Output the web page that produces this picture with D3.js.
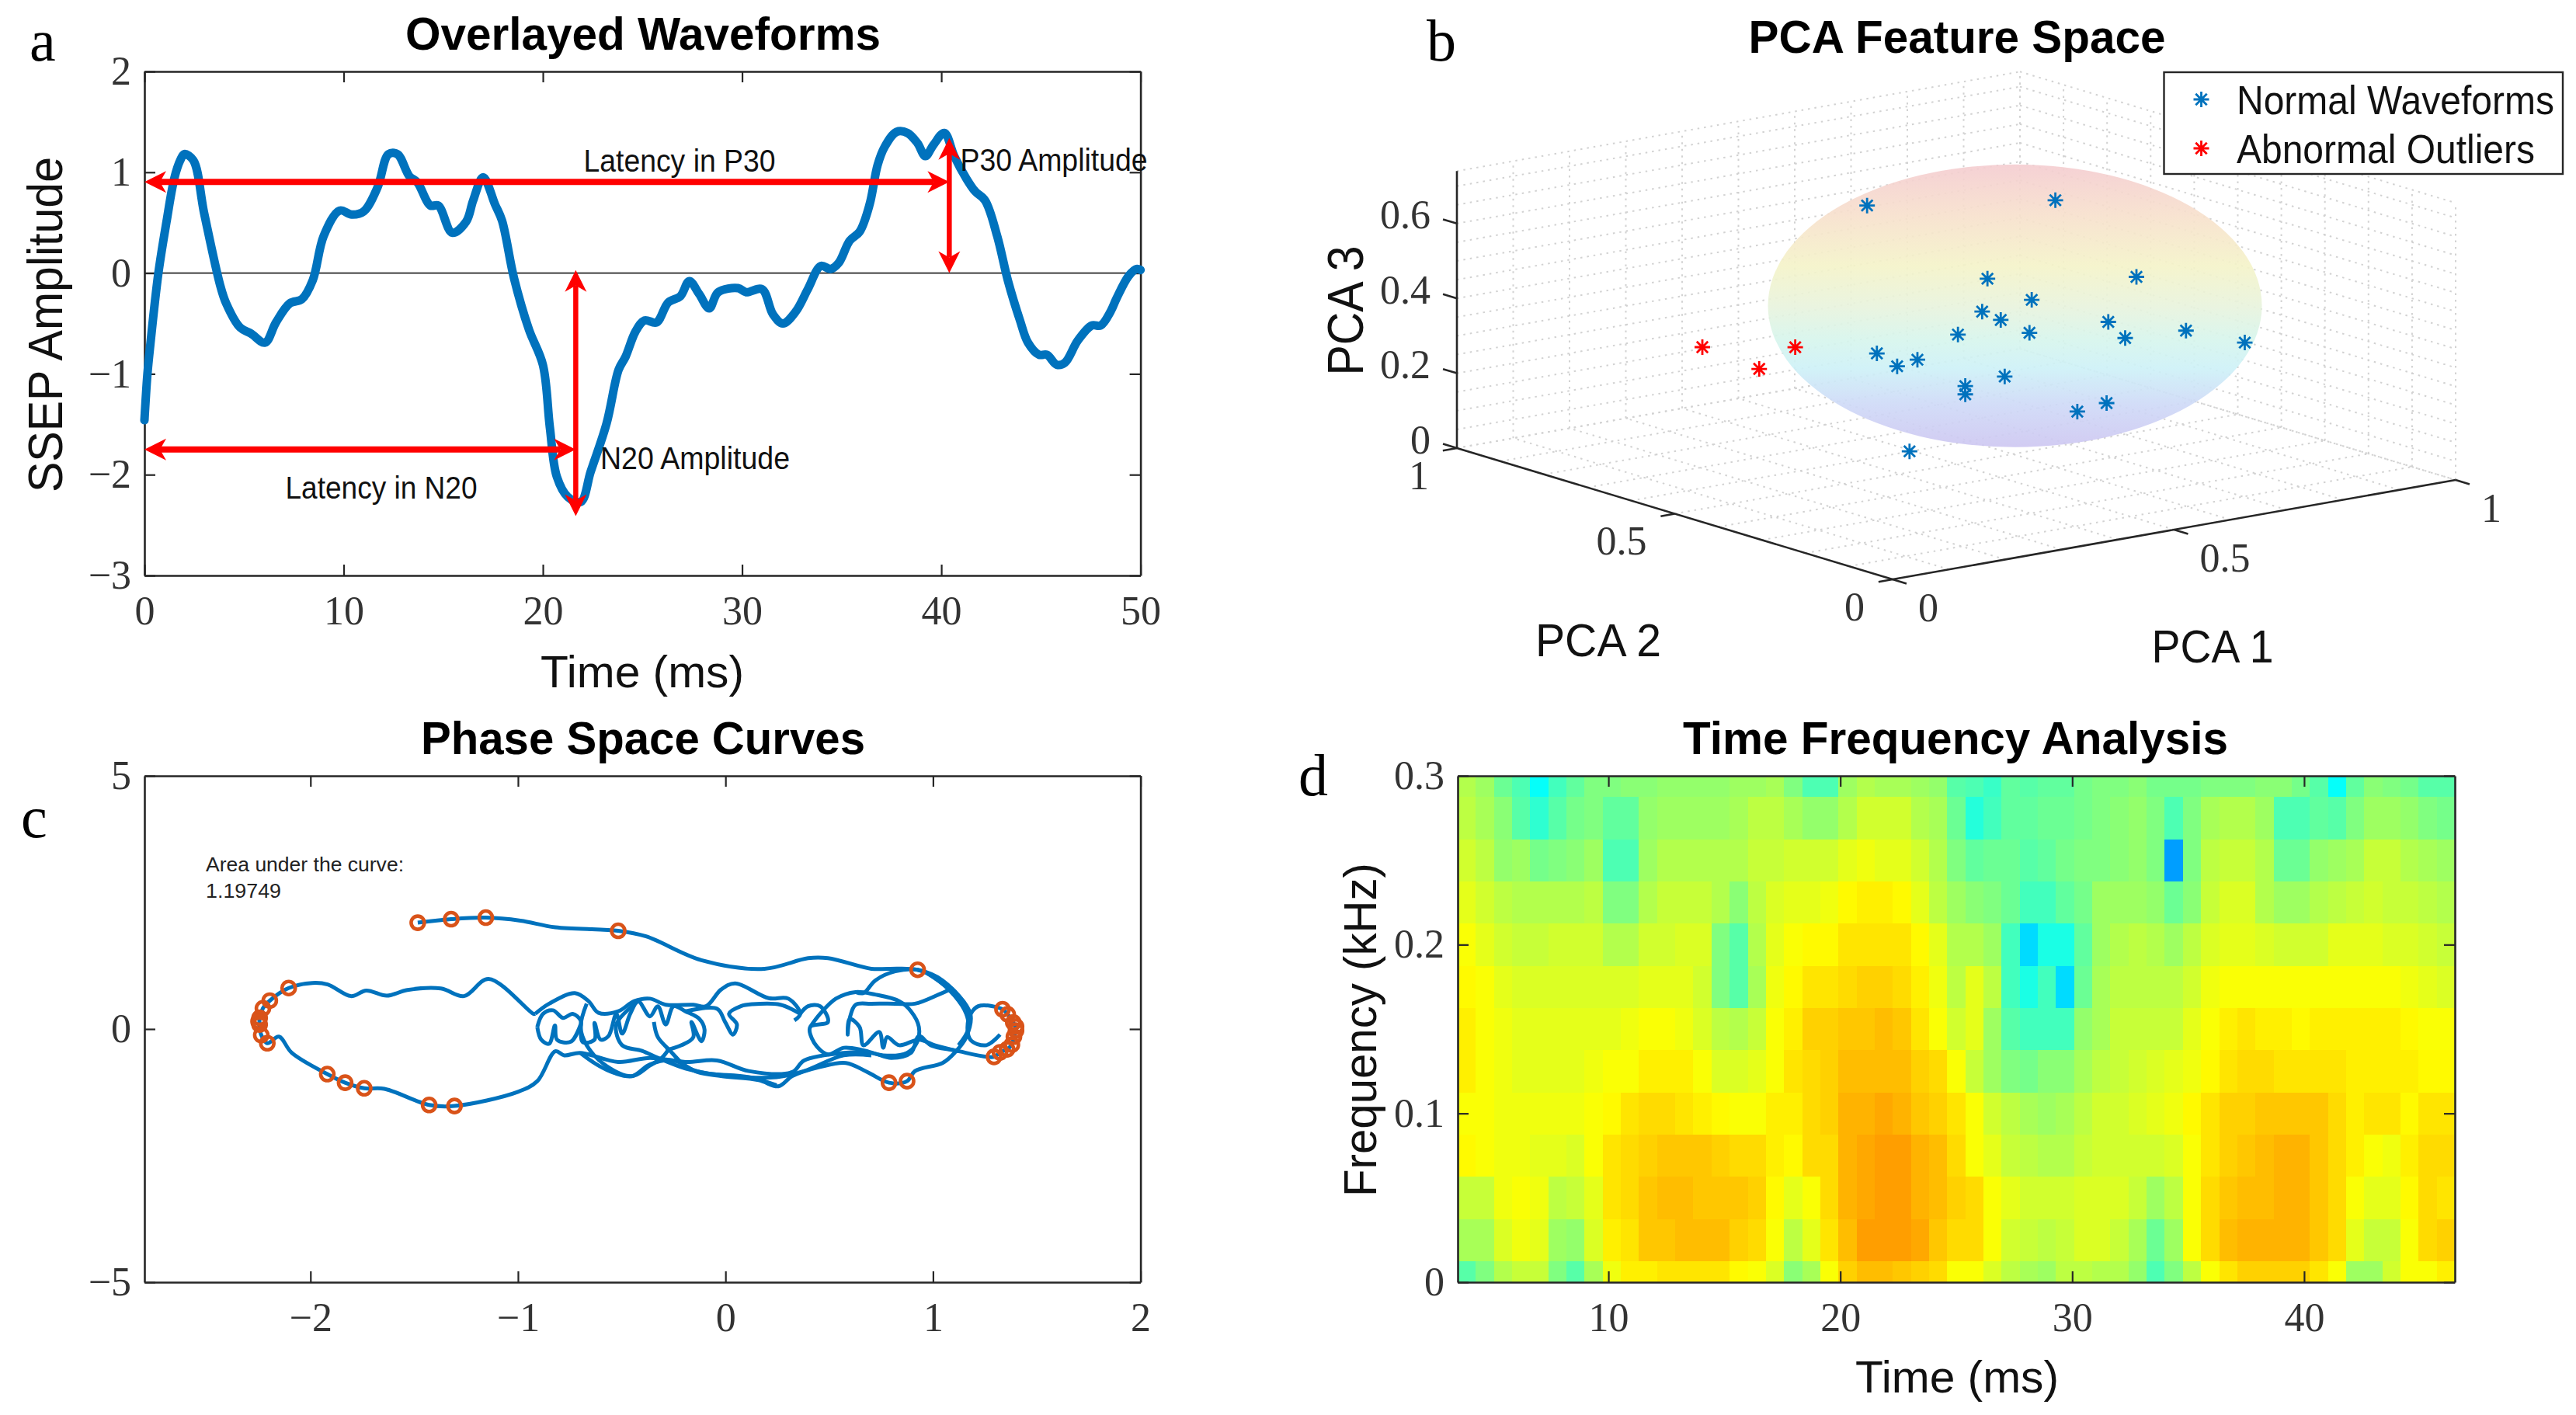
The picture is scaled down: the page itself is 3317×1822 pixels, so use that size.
<!DOCTYPE html>
<html><head><meta charset="utf-8">
<script src="https://cdnjs.cloudflare.com/ajax/libs/d3/7.8.5/d3.min.js"></script>
<style>html,body{margin:0;padding:0;background:#fff}svg{display:block}</style>
</head><body><div id="c"></div>
<script>
// ---------- Panel a: waveform (time ms, amplitude) ----------
const waveTime=[0,.15,.3,.7,1.1,1.5,1.8,2,2.45,3,3.8,4.1,4.8,5.35,6.05,6.6,7.3,7.9,8.45,9,9.8,10.4,11,11.7,12.25,12.7,13.3,13.7,14.35,14.75,15.45,16.15,16.5,17,17.6,17.95,18.55,19.3,20,20.35,20.7,21.25,21.9,22.4,23.2,23.8,24.15,24.65,25.1,25.7,26.3,26.9,27.35,27.85,28.35,28.8,29.8,30.2,31,31.55,32.05,32.7,33.3,33.95,34.45,34.85,35.4,35.9,36.4,36.8,37.15,37.75,38.3,38.8,39.2,39.6,40.15,40.65,41.25,41.7,42.2,42.8,43.35,43.95,44.35,44.9,45.3,45.8,46.2,46.85,47.55,48,48.5,48.8,49.4,49.8,50];
const waveAmp=[-1.46,-1.0,-.7,0,.5,.94,1.12,1.18,1.12,.59,-.12,-.3,-.54,-.6,-.69,-.49,-.3,-.26,-.07,.37,.62,.58,.61,.85,1.18,1.18,.96,.9,.67,.67,.4,.51,.72,.95,.68,.52,-.05,-.56,-.91,-1.53,-2.02,-2.22,-2.27,-1.97,-1.49,-.96,-.83,-.58,-.47,-.49,-.29,-.23,-.08,-.21,-.35,-.19,-.15,-.19,-.16,-.41,-.5,-.38,-.16,.07,.04,.1,.32,.41,.68,1.07,1.25,1.4,1.39,1.29,1.16,1.27,1.39,1.16,.94,.81,.72,.37,-.08,-.47,-.69,-.81,-.81,-.91,-.89,-.67,-.52,-.52,-.38,-.25,-.03,.04,.03];
const waveXTicks=[0,10,20,30,40,50];
const waveYTicks=[-3,-2,-1,0,1,2];
const latencyP30=40.4, latencyN20=21.65, latencyP30Level=.905, latencyN20Level=-1.75, p30Top=1.34, n20Bottom=-2.41;

// ---------- Panel b: PCA points ----------
const normalPCA1=[.419,.676,.478,.82,.634,.546,.579,.77,.908,.503,.63,.8,.935,.359,.431,.395,.586,.516,.516,.767,.715,.417];
const normalPCA2=[.6,.5,.4,.5,.5,.5,.5,.5,.5,.5,.5,.5,.4,.5,.5,.5,.5,.5,.5,.5,.5,.5];
const normalPCA3=[.677,.658,.536,.415,.403,.395,.364,.308,.248,.345,.316,.257,.244,.333,.297,.289,.211,.204,.182,.092,.083,.056];
const outlierPCA1=[.049,.15,.214];
const outlierPCA2=[.5,.5,.5];
const outlierPCA3=[.432,.347,.388];
const pcaPlaneTicks=[0,.5,1];
const pcaZTicks=[0,.2,.4,.6];
const pcaPlaneGrid=[0,.1,.2,.3,.4,.5,.6,.7,.8,.9,1];
const pcaZGrid=[0,.05,.1,.15,.2,.25,.3,.35,.4,.45,.5,.55,.6,.65,.7];
const pcaZMax=.74;
const ballCentre=[.55,.43,.434];
const ballStops=[[0,"#f4ccd0"],[.18,"#f7e0cc"],[.36,"#f4f3c8"],[.5,"#e8f3dc"],[.62,"#d6f5ec"],[.72,"#cdf1f7"],[.85,"#ced9f7"],[1,"#cdc6f1"]];

// ---------- Panel c: phase curves ----------
const phaseOuter=[[-1.483,2.10],[-1.322,2.17],[-1.155,2.20],[-.988,2.14],[-.82,2.01],[-.517,1.94],[-.383,1.83],[-.116,1.36],[.188,1.19],[.398,1.40],[.494,1.40],[.703,1.19],[.788,1.19],[.926,1.17],[1.046,.96],[1.18,.30],[1.16,-.16],[1.104,-.47],[1.046,-.67],[.913,-.83],[.875,-1.03],[.788,-1.06],[.684,-.85],[.58,-.67],[.455,-.75],[.322,-.93],[.255,-1.13],[.16,-1.01],[-.022,-.93],[-.135,-.85],[-.25,-.62],[-.364,-.70],[-.45,-.93],[-.535,-.87],[-.613,-.72],[-.70,-.47]];
const phaseLeftLoop=[[-.917,.30],[-.926,.30],[-1.142,.99],[-1.26,.65],[-1.372,.80],[-1.533,.77],[-1.632,.66],[-1.731,.76],[-1.805,.65],[-1.917,.88],[-1.991,.91],[-2.105,.81],[-2.196,.56],[-2.229,.41],[-2.245,.22],[-2.245,.09],[-2.237,-.12],[-2.208,-.28],[-2.152,-.15],[-2.09,-.47],[-1.919,-.89],[-1.833,-1.06],[-1.741,-1.17],[-1.644,-1.18],[-1.428,-1.50],[-1.306,-1.52],[-1.0,-1.24],[-.907,-1.03],[-.82,-.44],[-.777,-.52],[-.70,-.47],[-.517,-.65],[-.364,-.57],[-.193,-.65],[-.041,-.62],[.112,-.83],[.322,-.85],[.379,-.62],[.569,-.47],[.703,-.47],[.799,-.57],[.894,-.47],[.932,-.14],[.989,-.32],[1.104,-.42],[1.294,-.55],[1.323,-.46],[1.357,-.40],[1.38,-.31],[1.39,-.15],[1.40,-.03],[1.387,.13],[1.36,.29],[1.335,.39],[1.218,.45],[1.171,.19],[1.18,-.21],[1.256,-.32],[1.323,-.11]];
const phaseUpperWave=[[-.917,.30],[-.85,.50],[-.726,.71],[-.66,.55],[-.612,.32],[-.517,.35],[-.44,.55],[-.364,.60],[-.288,.48],[-.155,.48],[-.094,.45],[-.021,.78],[.046,.90],[.208,.61],[.303,.60],[.36,.30],[.332,.17]];
const phaseInnerA=[[-.907,.04],[-.879,.30],[-.831,.37],[-.783,.22],[-.736,.30],[-.698,.17],[-.698,-.03],[-.688,-.26],[-.631,-.21],[-.631,.12],[-.602,-.21],[-.564,-.14],[-.526,.30],[-.498,-.09],[-.459,.30],[-.421,.55],[-.364,.25],[-.326,.45],[-.288,.09],[-.25,.45],[-.193,.35],[-.126,.20],[-.101,-.01],[-.116,-.24],[-.164,.14],[-.155,-.16],[-.212,-.32],[-.288,-.42]];
const phaseInnerB=[[-.907,.04],[-.888,-.21],[-.85,-.29],[-.822,.07],[-.812,-.21],[-.745,-.25],[-.698,.09]];
const phaseInnerC=[[-.669,.50],[-.698,.04],[-.669,-.32],[-.574,-.73],[-.45,-.93],[-.364,-.72],[-.307,-.57],[-.269,-.37]];
const phaseInnerD=[[-.421,.55],[-.526,.09],[-.498,-.32],[-.402,-.43],[-.326,-.57],[-.193,-.78],[-.078,-.88],[.112,-.95],[.246,-1.11]];
const phaseInnerE=[[-.345,.14],[-.326,-.16],[-.269,-.42],[-.174,-.78],[.036,-.93],[.246,-.95],[.379,-.83],[.57,-.52],[.703,-.52]];
const phaseInnerF=[[-.193,.35],[-.04,.40],[-.002,.14],[.036,-.11],[.055,.09],[.017,.30],[.074,.45],[.131,.49],[.265,.48],[.36,.30]];
const phaseInnerG=[[.36,.30],[.398,.45],[.456,.45],[.494,.14],[.408,.04],[.427,-.27],[.494,-.50],[.57,-.37],[.665,-.42],[.76,-.52],[.875,-.47],[.922,-.27],[.932,.04],[.894,.35],[.837,.55],[.722,.68],[.627,.73],[.532,.60],[.456,.30],[.408,.04]];
const phaseInnerH=[[.627,.73],[.665,.71],[.722,.96],[.818,1.14],[.926,1.17],[1.008,1.01],[1.103,.66],[1.16,.30],[1.17,0],[1.123,-.32]];
const phaseInnerI=[[1.08,.78],[1.027,.68],[.913,.50],[.818,.50],[.703,.50],[.627,.48],[.598,.20],[.589,-.11],[.598,.20],[.646,.04],[.665,-.32],[.741,-.06],[.76,-.37],[.779,-.16],[.837,-.32],[.932,-.21],[1.008,-.32],[1.123,-.44]];
const phaseInnerJ=[[.97,1.11],[1.084,.76],[1.18,.25]];
const phaseCurves=[phaseOuter,phaseLeftLoop,phaseUpperWave,phaseInnerA,phaseInnerB,phaseInnerC,phaseInnerD,phaseInnerE,phaseInnerF,phaseInnerG,phaseInnerH,phaseInnerI,phaseInnerJ];
const phaseMarkers=[[-1.483,2.10],[-1.322,2.17],[-1.155,2.20],[-.517,1.94],[.926,1.17],[.875,-1.03],[.788,-1.06],[1.335,.39],[1.36,.29],[1.387,.13],[1.40,.05],[1.40,-.03],[1.39,-.15],[1.38,-.31],[1.357,-.40],[1.323,-.46],[1.294,-.55],[-2.105,.81],[-2.196,.56],[-2.229,.41],[-2.245,.22],[-2.25,.15],[-2.245,.09],[-2.237,-.12],[-2.208,-.28],[-1.919,-.89],[-1.833,-1.06],[-1.741,-1.17],[-1.428,-1.50],[-1.306,-1.52]];
const phaseXTicks=[-2,-1,0,1,2];
const phaseYTicks=[-5,0,5];

// ---------- Panel d: time-frequency levels (jet position, percent), rows by frequency ----------
const tf300=[55,53,48,45,38,44,47,50,50,51,51,52,52,52,52,53,53,54,50,45,45,53,55,54,54,53,52,46,45,43,47,46,47,47,49,50,50,51,49,49,49,50,50,50,51,51,49,46,38,47,51,50,49,46,46];
const tf275=[56,54,51,46,42,46,49,50,47,47,52,53,53,53,53,54,56,56,54,52,52,55,58,58,58,55,54,48,41,44,47,47,48,48,49,50,51,52,50,45,50,54,55,55,53,45,45,47,46,50,53,53,52,50,49];
const tf250=[58,56,52,53,49,50,51,53,45,45,53,55,55,55,55,55,57,57,58,58,58,60,61,60,60,58,55,50,47,48,48,46,47,49,50,50,51,52,50,28,50,56,57,57,55,48,48,52,53,54,57,57,55,54,53];
const tf225=[60,58,56,55,55,55,55,56,50,50,55,57,57,57,55,51,56,59,60,60,61,63,64,64,63,60,56,53,51,50,48,44,44,47,49,53,53,53,52,48,51,57,59,59,55,53,53,55,56,57,58,57,57,56,55];
const tf200=[62,60,58,57,57,58,58,58,55,55,58,58,59,59,50,46,55,60,62,63,63,65,65,65,65,63,60,55,55,53,44,34,40,40,47,53,55,56,55,53,56,59,60,60,59,58,58,58,60,60,60,59,59,58,57];
const tf175=[63,62,60,59,59,59,59,59,59,59,60,60,60,58,50,46,54,61,63,65,65,66,67,67,66,64,61,56,60,56,44,40,44,34,48,54,56,56,56,56,58,61,62,62,62,62,62,62,62,62,62,62,61,60,59];
const tf150=[64,62,61,60,60,60,60,60,60,61,62,62,61,59,56,55,57,62,64,67,67,68,68,69,68,65,62,58,60,53,46,44,44,44,52,54,57,57,57,57,60,62,64,65,64,64,63,64,64,64,64,64,63,62,62];
const tf125=[64,62,61,60,60,60,60,61,62,62,64,64,64,62,59,59,60,62,65,66,67,69,69,69,69,67,66,62,57,53,50,49,51,51,54,56,57,58,59,60,61,63,65,66,66,65,65,65,65,64,64,64,64,63,63];
const tf100=[62,62,61,61,61,61,61,62,63,65,66,66,65,64,63,62,62,64,64,66,67,70,70,71,70,68,67,65,62,58,56,54,53,54,56,58,58,59,60,61,63,65,67,67,68,68,68,68,66,64,65,65,63,65,65];
const tf075=[63,62,61,61,60,60,59,62,65,66,67,68,68,68,67,66,66,64,63,66,66,70,71,72,72,70,69,66,62,60,57,56,55,55,57,58,58,58,58,59,62,65,67,68,69,70,70,68,66,64,62,61,64,66,66];
const tf050=[57,57,61,62,61,56,57,60,65,66,68,69,69,68,68,68,67,63,60,62,66,70,71,72,72,70,69,67,66,62,60,58,58,58,59,59,59,57,53,56,62,66,68,69,69,70,70,68,66,62,60,60,63,66,65];
const tf025=[54,54,59,61,60,53,52,59,64,65,68,68,69,69,69,67,66,62,56,60,65,69,72,72,72,71,68,66,66,62,58,57,56,57,59,59,57,54,48,53,62,66,69,70,70,70,70,68,66,60,57,57,62,66,67];
const tf000=[46,50,55,57,57,50,46,54,61,64,64,65,65,65,65,63,62,59,51,54,62,67,69,69,68,67,66,62,62,59,56,54,53,56,56,55,55,52,45,50,56,62,65,67,67,67,67,65,62,53,53,58,62,62,64];
const tfRows=[tf300,tf275,tf250,tf225,tf200,tf175,tf150,tf125,tf100,tf075,tf050,tf025,tf000];
const tfFreqs=[.3,.275,.25,.225,.2,.175,.15,.125,.1,.075,.05,.025,0];
const tfTimeStart=3.5, tfTimeEnd=46.5;
const tfXTicks=[10,20,30,40];
const tfYTicks=[0,.1,.2,.3];

// ---------- Layout and style ----------
const W=3317,H=1822, INK="#262626", BLUE="#0072BD", ORANGE="#D95319", RED="#FF0000";
const SANS="'Liberation Sans',Arial,sans-serif", SERIF="'Liberation Serif',serif";
const svg=d3.select("#c").append("svg").attr("width",W).attr("height",H).attr("viewBox",`0 0 ${W} ${H}`);
svg.append("rect").attr("width",W).attr("height",H).attr("fill","#fff");

function label(str,x,y,size,len,o={}){
  const t=svg.append("text").attr("x",o.rot?0:x).attr("y",o.rot?0:y).text(str)
    .attr("font-family",o.font||SANS).attr("font-size",size).attr("fill",o.fill||"#111")
    .attr("font-weight",o.bold?"700":"400").attr("text-anchor",o.anchor||"middle");
  if(len) t.attr("textLength",len).attr("lengthAdjust","spacingAndGlyphs");
  if(o.rot) t.attr("transform",`translate(${x},${y}) rotate(-90)`);
  return t;
}
const plainNum=d3.format("~g");
function frame(box,xs,ys,xTicks,yTicks,o={}){
  const g=svg.append("g");
  const tl=o.tick||14, fs=o.fs||52;
  const styl=s=>{s.selectAll("path.domain").attr("stroke",INK).attr("stroke-width",2.6);
    s.selectAll(".tick line").attr("stroke",INK).attr("stroke-width",2.2);
    s.selectAll("text").attr("font-family",SERIF).attr("font-size",fs).attr("fill","#333");};
  g.append("g").attr("transform",`translate(0,${box.b})`).call(d3.axisBottom(xs).tickValues(xTicks).tickSizeInner(-tl).tickSizeOuter(0).tickPadding(26).tickFormat(plainNum)).call(styl);
  g.append("g").attr("transform",`translate(0,${box.t})`).call(d3.axisTop(xs).tickValues(xTicks).tickSizeInner(-tl).tickSizeOuter(0).tickFormat("")).call(styl);
  g.append("g").attr("transform",`translate(${box.l},0)`).call(d3.axisLeft(ys).tickValues(yTicks).tickSizeInner(-tl).tickSizeOuter(0).tickPadding(17).tickFormat(plainNum)).call(styl);
  g.append("g").attr("transform",`translate(${box.r},0)`).call(d3.axisRight(ys).tickValues(yTicks).tickSizeInner(-tl).tickSizeOuter(0).tickFormat("")).call(styl);
  return g;
}

// Panel letters and titles
label("a",38,78,76,null,{font:SERIF,anchor:"start",fill:"#000"});
label("b",1837,78,76,null,{font:SERIF,anchor:"start",fill:"#000"});
label("c",27,1078,76,null,{font:SERIF,anchor:"start",fill:"#000"});
label("d",1672,1024,76,null,{font:SERIF,anchor:"start",fill:"#000"});
label("Overlayed Waveforms",828,64,60,612,{bold:true,fill:"#000"});
label("PCA Feature Space",2520,68,60,537,{bold:true,fill:"#000"});
label("Phase Space Curves",828,971,60,572,{bold:true,fill:"#000"});
label("Time Frequency Analysis",2518,971,60,702,{bold:true,fill:"#000"});

// ---------- Panel a ----------
{
  const box={l:186,r:1468.6,t:92,b:741};
  const x=d3.scaleLinear().domain([0,50]).range([box.l,box.r]);
  const y=d3.scaleLinear().domain([-3,2]).range([box.b,box.t]);
  svg.append("line").attr("x1",x(0)).attr("x2",x(50)).attr("y1",y(0)).attr("y2",y(0)).attr("stroke",INK).attr("stroke-width",1.8);
  frame(box,x,y,waveXTicks,waveYTicks);
  const pts=waveTime.map((t,i)=>[t,waveAmp[i]]);
  svg.append("path").attr("d",d3.line().x(d=>x(d[0])).y(d=>y(d[1])).curve(d3.curveCatmullRom.alpha(.5))(pts))
    .attr("fill","none").attr("stroke",BLUE).attr("stroke-width",11).attr("stroke-linejoin","round").attr("stroke-linecap","round");
  function arrow(x1,y1,x2,y2,w){
    const dx=x2-x1,dy=y2-y1,L=Math.hypot(dx,dy),ux=dx/L,uy=dy/L,px=-uy,py=ux,hl=28,hw=14,nt=20;
    svg.append("line").attr("x1",x1+ux*nt).attr("y1",y1+uy*nt).attr("x2",x2-ux*nt).attr("y2",y2-uy*nt).attr("stroke",RED).attr("stroke-width",w);
    const head=(tx,ty,s)=>{const a=[tx,ty],b=[tx-s*ux*hl+px*hw,ty-s*uy*hl+py*hw],c=[tx-s*ux*nt,ty-s*uy*nt],e=[tx-s*ux*hl-px*hw,ty-s*uy*hl-py*hw];
      svg.append("polygon").attr("points",[a,b,c,e].map(p=>p.join(",")).join(" ")).attr("fill",RED);};
    head(x2,y2,1);head(x1,y1,-1);
  }
  arrow(x(0),y(latencyP30Level),x(latencyP30),y(latencyP30Level),8);
  arrow(x(0),y(latencyN20Level),x(latencyN20),y(latencyN20Level),8);
  arrow(x(latencyP30),y(p30Top),x(latencyP30),y(0),6.5);
  arrow(x(latencyN20),y(0.03),x(latencyN20),y(n20Bottom),6.5);
  label("Latency in P30",875,221,40,247);
  label("P30 Amplitude",1357,220,40,241);
  label("N20 Amplitude",895,604,40,244);
  label("Latency in N20",491,642,40,247);
  label("Time (ms)",827,885,58,262);
  label("SSEP Amplitude",80,418,63,432,{rot:true});
}

// ---------- Panel b ----------
{
  const ox=d3.scaleLinear().domain([0,1]).range([0,725]);
  const oy=d3.scaleLinear().domain([0,1]).range([0,-561]);
  const zx=d3.scaleLinear().domain([0,1]).range([0,-128]);
  const zy=d3.scaleLinear().domain([0,1]).range([0,-169]);
  const zz=d3.scaleLinear().domain([0,1]).range([0,-482]);
  const P=(a,b,c)=>[2437+ox(a)+oy(b),746+zx(a)+zy(b)+zz(c)];
  const grid=svg.append("g").attr("fill","none").attr("stroke","#d2d2d2").attr("stroke-width",2).attr("stroke-dasharray","2.5 6");
  const seg=(a,b)=>grid.append("line").attr("x1",a[0]).attr("y1",a[1]).attr("x2",b[0]).attr("y2",b[1]);
  pcaPlaneGrid.forEach(v=>{
    seg(P(v,0,0),P(v,1,0)); seg(P(0,v,0),P(1,v,0));
    seg(P(v,1,0),P(v,1,pcaZMax)); seg(P(1,v,0),P(1,v,pcaZMax));
  });
  pcaZGrid.forEach(v=>{ seg(P(0,1,v),P(1,1,v)); seg(P(1,1,v),P(1,0,v)); });
  seg(P(0,1,pcaZMax),P(1,1,pcaZMax)); seg(P(1,1,pcaZMax),P(1,0,pcaZMax));
  const grad=svg.append("defs").append("linearGradient").attr("id","ball").attr("x1",0).attr("x2",0).attr("y1",0).attr("y2",1);
  ballStops.forEach(s=>grad.append("stop").attr("offset",s[0]).attr("stop-color",s[1]));
  const cc=P(...ballCentre);
  svg.append("ellipse").attr("cx",cc[0]).attr("cy",cc[1]).attr("rx",318).attr("ry",182).attr("fill","url(#ball)").attr("fill-opacity",.9);
  // axes
  const ax=svg.append("g").attr("stroke",INK).attr("stroke-width",2.6).attr("fill","none");
  const al=(a,b)=>ax.append("line").attr("x1",a[0]).attr("y1",a[1]).attr("x2",b[0]).attr("y2",b[1]);
  al(P(0,0,0),P(1,0,0)); al(P(0,0,0),P(0,1,0)); al(P(0,1,0),P(0,1,pcaZMax));
  pcaPlaneTicks.forEach(v=>{ al(P(v,0,0),P(v,-.032,0)); al(P(0,v,0),P(-.025,v,0)); });
  pcaZTicks.forEach(v=>al(P(0,1,v),P(0,1.032,v)));
  const tfs=52;
  const tickTxt=(s,p,dx,dy,anch)=>label(s,p[0]+dx,p[1]+dy,tfs,null,{font:SERIF,anchor:anch,fill:"#333"}).attr("dominant-baseline","central");
  pcaPlaneTicks.forEach(v=>{ tickTxt(String(v),P(v,0,0),33,36,"start"); tickTxt(String(v),P(0,v,0),-36,35,"end"); });
  pcaZTicks.forEach(v=>tickTxt(String(v),P(0,1,v),-34,-11,"end"));
  label("PCA 1",2849,853,60,157);
  label("PCA 2",2058,845,60,162);
  label("PCA 3",1755,400,64,167,{rot:true});
  // star marker
  const star={draw(c,s){const r=Math.sqrt(s)/2,d=r*.72;c.moveTo(0,-r);c.lineTo(0,r);c.moveTo(-r,0);c.lineTo(r,0);c.moveTo(-d,-d);c.lineTo(d,d);c.moveTo(-d,d);c.lineTo(d,-d);}};
  const stars=(xs,ys,zs,col)=>svg.append("g").selectAll("path").data(xs.map((v,i)=>P(v,ys[i],zs[i]))).join("path")
    .attr("transform",d=>`translate(${d[0]},${d[1]})`).attr("d",d3.symbol(star,400)()).attr("stroke",col).attr("stroke-width",2.8).attr("fill","none");
  stars(normalPCA1,normalPCA2,normalPCA3,BLUE);
  stars(outlierPCA1,outlierPCA2,outlierPCA3,RED);
  // legend
  svg.append("rect").attr("x",2786.5).attr("y",93).attr("width",513.5).attr("height",131).attr("fill","#fff").attr("stroke",INK).attr("stroke-width",2.4);
  svg.append("path").attr("transform","translate(2834.5,128)").attr("d",d3.symbol(star,400)()).attr("stroke",BLUE).attr("stroke-width",2.8).attr("fill","none");
  svg.append("path").attr("transform","translate(2834.5,191)").attr("d",d3.symbol(star,400)()).attr("stroke",RED).attr("stroke-width",2.8).attr("fill","none");
  label("Normal Waveforms",2880,147,52,409,{anchor:"start"});
  label("Abnormal Outliers",2880,210,52,384,{anchor:"start"});
}

// ---------- Panel c ----------
{
  const box={l:186,r:1468.6,t:999,b:1651};
  const x=d3.scaleLinear().domain([-2.8,2]).range([box.l,box.r]);
  const y=d3.scaleLinear().domain([-5,5]).range([box.b,box.t]);
  const line=d3.line().x(d=>x(d[0])).y(d=>y(d[1])).curve(d3.curveCatmullRom.alpha(.5));
  svg.append("g").selectAll("path").data(phaseCurves).join("path").attr("d",line).attr("fill","none").attr("stroke",BLUE).attr("stroke-width",5).attr("stroke-linejoin","round");
  svg.append("g").selectAll("circle").data(phaseMarkers).join("circle").attr("cx",d=>x(d[0])).attr("cy",d=>y(d[1])).attr("r",8.5).attr("fill","none").attr("stroke",ORANGE).attr("stroke-width",4.6);
  frame(box,x,y,phaseXTicks,phaseYTicks);
  label("Area under the curve:",265,1122,25,255,{anchor:"start",fill:"#222"});
  label("1.19749",265,1156,25,97,{anchor:"start",fill:"#222"});
}

// ---------- Panel d ----------
{
  const box={l:1877,r:3161,t:999,b:1651};
  const x=d3.scaleLinear().domain([tfTimeStart,tfTimeEnd]).range([box.l,box.r]);
  const y=d3.scaleLinear().domain([0,.3]).range([box.b,box.t]);
  const col=d3.scaleLinear().domain([0,55]).range([tfTimeStart,tfTimeEnd]);
  const lvl=d3.scaleLinear().domain([0,100]).range([0,1]);
  const cl=v=>Math.max(0,Math.min(1,v));
  const jet=p=>{const v=lvl(p);return d3.rgb(255*cl(Math.min(4*v-1.5,-4*v+4.5)),255*cl(Math.min(4*v-.5,-4*v+3.5)),255*cl(Math.min(4*v+.5,-4*v+2.5)));};
  svg.append("defs").append("clipPath").attr("id","hm").append("rect").attr("x",box.l).attr("y",box.t).attr("width",box.r-box.l).attr("height",box.b-box.t);
  const hm=svg.append("g").attr("clip-path","url(#hm)").attr("shape-rendering","crispEdges");
  tfRows.forEach((row,ri)=>{
    const f=tfFreqs[ri];
    hm.append("g").selectAll("rect").data(row).join("rect")
      .attr("x",(d,i)=>x(col(i))).attr("width",(d,i)=>x(col(i+1))-x(col(i))+.6)
      .attr("y",y(f+.0125)).attr("height",y(f-.0125)-y(f+.0125)+.6).attr("fill",d=>jet(d));
  });
  frame(box,x,y,tfXTicks,tfYTicks);
  label("Time (ms)",2520,1793,58,262);
  label("Frequency (kHz)",1772,1326,60,430,{rot:true});
}
</script>
</body></html>
